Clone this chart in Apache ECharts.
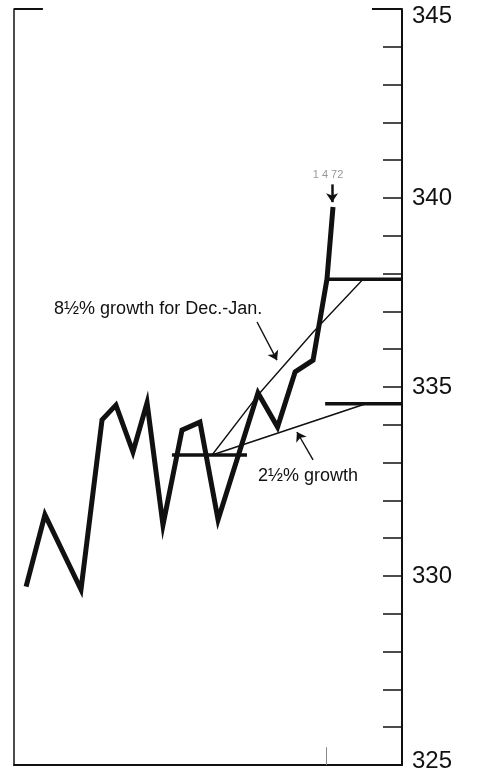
<!DOCTYPE html>
<html>
<head>
<meta charset="utf-8">
<script src="https://cdn.jsdelivr.net/npm/echarts@6/dist/echarts.min.js"></script>
<style>
html,body{margin:0;padding:0;background:#fff;}
#c{width:477px;height:769px;}
</style>
</head>
<body>
<div id="c"></div>
<script>
// ---- data (x in weeks, y in billions) ----
var weekX   = [0.66, 1.69, 3.66, 4.81, 5.57, 6.50, 7.27, 8.14, 9.18, 10.16, 11.15, 13.33, 14.40, 15.36, 16.34, 17.10, 17.43];
var levels  = [329.72, 331.62, 329.64, 334.13, 334.52, 333.28, 334.58, 331.35, 333.86, 334.07, 331.49, 334.84, 333.94, 335.40, 335.71, 337.85, 339.76];
var growth8X = [10.82, 13.44, 16.34, 19.07];
var growth8Y = [333.20, 334.85, 336.45, 337.85];
var growth2X = [10.82, 16.89, 19.18];
var growth2Y = [333.20, 334.18, 334.55];
var baseX = [8.63, 12.73];    var baseLevel = 333.20;
var target8X = [17.10, 21.2]; var target8Level = 337.85;
var target2X = [17.00, 21.2]; var target2Level = 334.56;
var yTicks = [325, 330, 335, 340, 345];
var label8 = '8½% growth for Dec.-Jan.';
var label2 = '2½% growth';
var dateLabel = '1 4 72';

function pairs(xs, ys){ return xs.map(function(x,i){ return [x, ys[i]]; }); }
function flat(xs, v){ return xs.map(function(x){ return [x, v]; }); }

var chart = echarts.init(document.getElementById('c'), null, {renderer:'canvas'});
var FONT = '"Liberation Sans", Arial, sans-serif';
var BLK = '#111';

var option = {
  animation: false,
  backgroundColor: '#fff',
  grid: {left: 14, right: 75, top: 9, bottom: 4, containLabel: false, outerBoundsMode: 'none'},
  xAxis: {
    type: 'value', min: 0, max: 21.2,
    axisLine: {show: true, onZero: false, lineStyle: {color: BLK, width: 2}},
    axisTick: {show: false}, axisLabel: {show: false}, splitLine: {show: false}
  },
  yAxis: [{
    type: 'value', position: 'right', min: 325, max: 345, interval: 5,
    axisLine: {show: true, onZero: false, lineStyle: {color: BLK, width: 2}},
    axisTick: {show: true, inside: true, length: 19, lineStyle: {color: BLK, width: 1.5}},
    minorTick: {show: true, splitNumber: 5, length: 19, lineStyle: {color: BLK, width: 1.5}},
    splitLine: {show: false}, minorSplitLine: {show: false},
    axisLabel: {
      show: true, margin: 10, color: BLK, fontSize: 24, fontFamily: FONT,
      formatter: function(v){
        if (v === 345) return '{t|' + v + '}';
        if (v === 325) return '{b|' + v + '}';
        return '{m|' + v + '}';
      },
      rich: {
        t: {fontSize: 24, fontFamily: FONT, color: BLK, padding: [14,0,0,0]},
        b: {fontSize: 24, fontFamily: FONT, color: BLK, padding: [0,0,8,0]},
        m: {fontSize: 24, fontFamily: FONT, color: BLK}
      }
    }
  }, {
    type: 'value', position: 'left', min: 325, max: 345,
    axisLine: {show: true, onZero: false, lineStyle: {color: BLK, width: 1.5}},
    axisTick: {show: false}, axisLabel: {show: false}, splitLine: {show: false}
  }],
  series: [
    {
      type: 'line', data: pairs(weekX, levels), showSymbol: false, symbol: 'none',
      lineStyle: {color: BLK, width: 5, join: 'miter', miterLimit: 10}, z: 5
    },
    {
      type: 'line', data: pairs(growth8X, growth8Y), symbol: 'none',
      lineStyle: {color: BLK, width: 1.4}
    },
    {
      type: 'line', data: pairs(growth2X, growth2Y), symbol: 'none',
      lineStyle: {color: BLK, width: 1.6}
    },
    {
      type: 'line', data: flat(baseX, baseLevel), symbol: 'none',
      lineStyle: {color: BLK, width: 3.5}
    },
    {
      type: 'line', data: flat(target8X, target8Level), symbol: 'none',
      lineStyle: {color: BLK, width: 3.5}
    },
    {
      type: 'line', data: flat(target2X, target2Level), symbol: 'none',
      lineStyle: {color: BLK, width: 3.5}
    },
    {
      // annotation arrows
      type: 'line', data: [], symbol: 'none',
      markLine: {
        silent: true, symbol: ['none', 'arrow'], symbolSize: 9,
        label: {show: false},
        lineStyle: {color: BLK, width: 1.4, type: 'solid'},
        data: [
          [{coord: [13.28, 336.72]}, {coord: [14.37, 335.71]}],
          [{coord: [16.34, 333.07]}, {coord: [15.46, 333.81]}],
          [{coord: [17.38, 340.36], lineStyle: {width: 2.5}}, {coord: [17.38, 339.89]}]
        ]
      }
    },
    {
      // frame fragments and date tick
      type: 'line', data: [], symbol: 'none',
      markLine: {
        silent: true, symbol: ['none', 'none'],
        label: {show: false},
        lineStyle: {color: BLK, width: 2, type: 'solid'},
        data: [
          [{coord: [0, 345]}, {coord: [1.58, 345]}],
          [{coord: [19.56, 345]}, {coord: [21.2, 345]}],
          [{coord: [17.05, 325]}, {coord: [17.05, 325.47], lineStyle: {width: 1, color: '#888'}}]
        ]
      }
    }
  ]
};
chart.setOption(option);

function px(p){ return chart.convertToPixel({gridIndex: 0}, p); }
var p8 = px([2.19, 337.03]);
var p2 = px([13.33, 332.62]);
var pd = px([17.16, 340.60]);
chart.setOption({
  graphic: [
    {type: 'text', left: p8[0], top: p8[1] - 10, style: {text: label8, font: '18px ' + FONT, fill: BLK}},
    {type: 'text', left: p2[0], top: p2[1] - 10, style: {text: label2, font: '18px ' + FONT, fill: BLK}},
    {type: 'text', x: pd[0], y: pd[1], style: {text: dateLabel, font: '11px ' + FONT, fill: '#999', align: 'center', verticalAlign: 'middle'}}
  ]
});
</script>
</body>
</html>
